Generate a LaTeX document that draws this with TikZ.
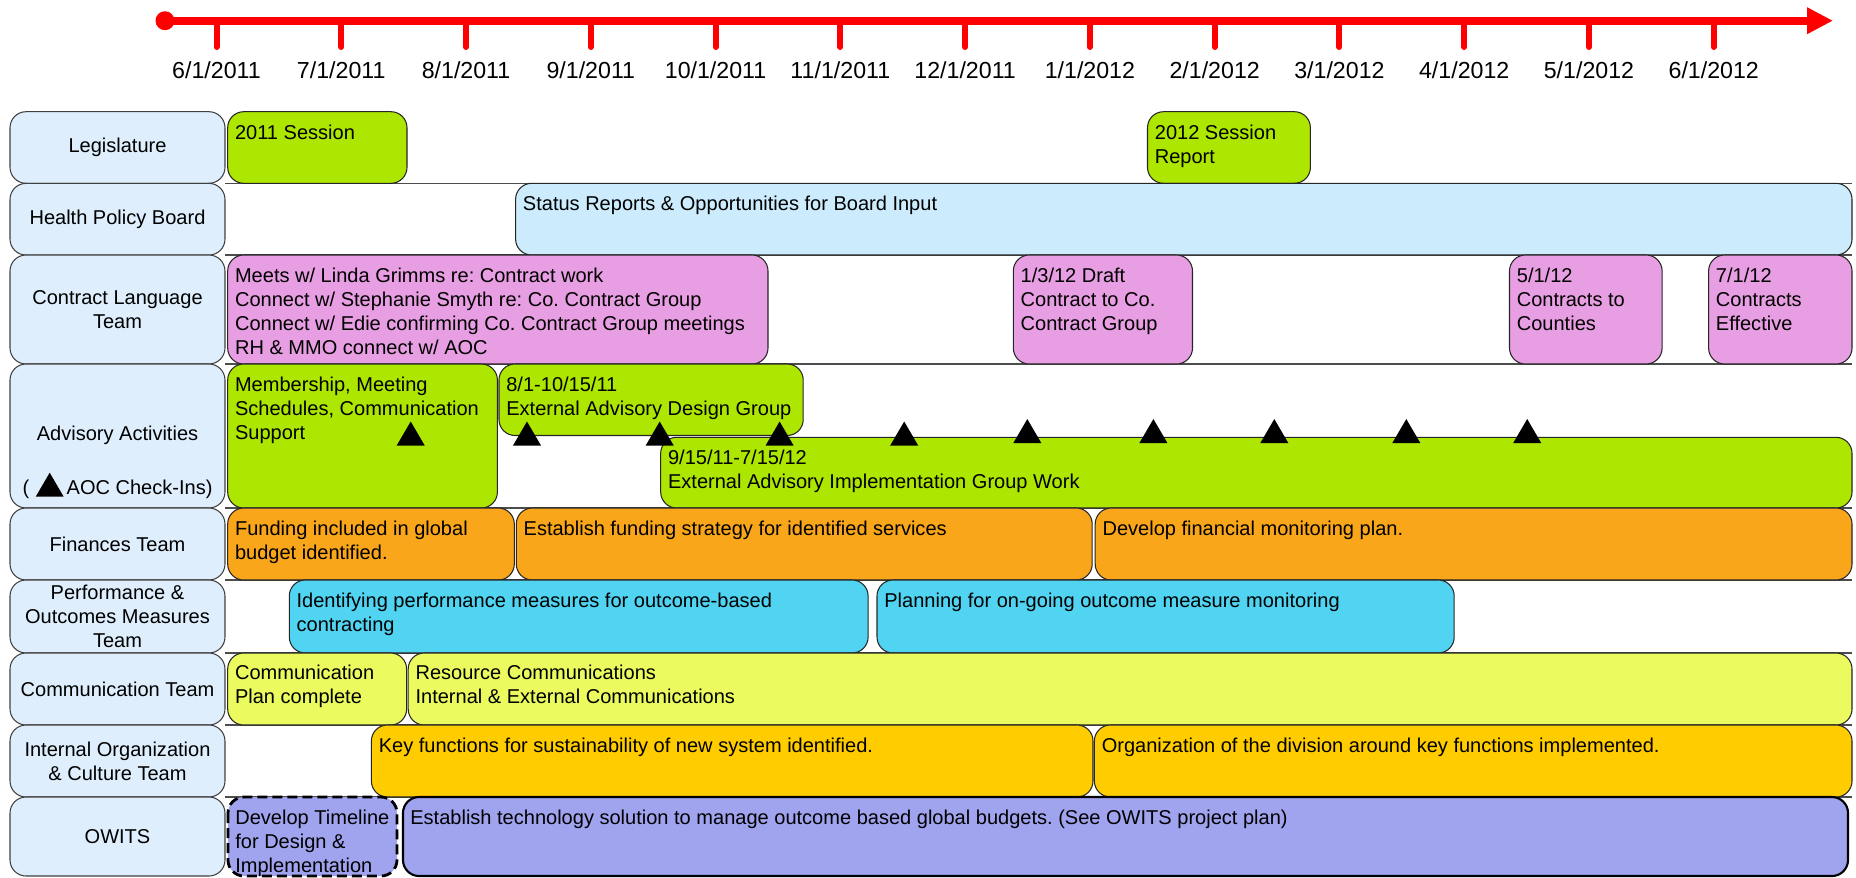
\documentclass[tikz,border=0pt]{standalone}
\usepackage{fontspec}
\setmainfont{Liberation Sans}
\usetikzlibrary{arrows.meta}
\frenchspacing
\definecolor{labblue}{RGB}{222,238,252}
\definecolor{sessgreen}{RGB}{173,230,0}
\definecolor{boardblue}{RGB}{204,236,253}
\definecolor{contpink}{RGB}{232,158,226}
\definecolor{finorange}{RGB}{250,166,26}
\definecolor{perfcyan}{RGB}{80,212,242}
\definecolor{commyellow}{RGB}{235,250,94}
\definecolor{orggold}{RGB}{255,204,0}
\definecolor{owitspurple}{RGB}{160,163,238}
\begin{document}
\begin{tikzpicture}
[x=0.02cm,y=-0.02cm,
 lab/.style={draw=black!75,fill=labblue,rounded corners=0.32cm,line width=0.6pt,
   minimum width=4.3cm,inner sep=0pt,align=center,font=\fontsize{11.4}{13.6}\selectfont},
 bar/.style={draw=black!85,rounded corners=0.32cm,line width=0.6pt},
 txt/.style={anchor=north west,inner sep=0pt,align=left,font=\fontsize{11.4}{13.6}\selectfont},
 month/.style={font=\fontsize{13.2}{15}\selectfont}]
   \clip (0,0) rectangle (1856,877);
   \node[circle,fill=red,inner sep=0pt,minimum size=0.38cm] (start) at (165,20.7) {};
   \coordinate (stop) at (1833,20.7);
   \draw[red,line width=0.16cm,-{Triangle[length=0.52cm,width=0.5cm]}] (start.center) -- (stop);
   \foreach \m/\yr [count=\i from 0] in {6/2011,7/2011,8/2011,9/2011,10/2011,11/2011,12/2011,1/2012,2/2012,3/2012,4/2012,5/2012,6/2012}
   {
     \draw[red,line width=0.12cm,line cap=round] (216.5+124.77*\i,22) -- (216.5+124.77*\i,47);
     \node[month] (m_\i) at (216.5+124.77*\i,70) {\m/1/\yr};
   }
   \foreach \y in {183.3,255,364,508,580,653,725,797}
     \draw[black!70,line width=0.6pt] (225,\y) -- (1852,\y);

   \node[lab,minimum height=1.432cm] (l_leg) at (117.5,147.5) {Legislature};
   \node[lab,minimum height=1.434cm] (l_hpb) at (117.5,219.2) {Health Policy Board};
   \node[lab,minimum height=2.18cm] (l_cl) at (117.5,309.5) {Contract Language\\Team};
   \node[lab,minimum height=2.88cm] (l_adv) at (117.5,436) {};
   \node[lab,minimum height=1.44cm] (l_fin) at (117.5,544) {Finances Team};
   \node[lab,minimum height=1.46cm] (l_pm) at (117.5,616.5) {Performance \&\\Outcomes Measures\\Team};
   \node[lab,minimum height=1.44cm] (l_com) at (117.5,689) {Communication Team};
   \node[lab,minimum height=1.44cm] (l_io) at (117.5,761) {Internal Organization\\\& Culture Team};
   \node[lab,minimum height=1.58cm] (l_ow) at (117.5,836.5) {OWITS};
   \node[txt,anchor=center] (l_adv1) at (117.5,435.7) {Advisory Activities};
   \node[txt,anchor=center] (l_adv2) at (117.5,489) {(\hspace{0.75cm}AOC Check-Ins)};
   \fill (35.7,496.7) -- (63.7,496.7) -- (49.7,472.7) -- cycle;

   \draw[bar,fill=sessgreen] (227.7,111.7) rectangle (407,183.3);
   \node[txt] (b_s11) at (234.7,124.5) {2011 Session};
   \draw[bar,fill=sessgreen] (1147.5,111.7) rectangle (1310.4,183.3);
   \node[txt] (b_s12) at (1154.5,124.5) {2012 Session\\Report};

   \draw[bar,fill=boardblue] (515.6,183.3) rectangle (1852,255);
   \node[txt] (b_hpb) at (522.6,196.1) {Status Reports \& Opportunities for Board Input};

   \draw[bar,fill=contpink] (227.7,255) rectangle (768,364);
   \node[txt] (b_cl1) at (234.7,267.8) {Meets w/ Linda Grimms re: Contract work\\Connect w/ Stephanie Smyth re: Co. Contract Group\\Connect w/ Edie confirming Co. Contract Group meetings\\RH \& MMO connect w/ AOC};
   \draw[bar,fill=contpink] (1013.3,255) rectangle (1192.5,364);
   \node[txt] (b_cl2) at (1020.3,267.8) {1/3/12 Draft\\Contract to Co.\\Contract Group};
   \draw[bar,fill=contpink] (1509.5,255) rectangle (1662.1,364);
   \node[txt] (b_cl3) at (1516.5,267.8) {5/1/12\\Contracts to\\Counties};
   \draw[bar,fill=contpink] (1708.6,255) rectangle (1852,364);
   \node[txt] (b_cl4) at (1715.6,267.8) {7/1/12\\Contracts\\Effective};

   \draw[bar,fill=sessgreen] (227.7,364) rectangle (497.4,508);
   \node[txt] (b_adv1) at (234.7,376.8) {Membership, Meeting\\Schedules, Communication\\Support};
   \draw[bar,fill=sessgreen] (499,364) rectangle (803.2,435.5);
   \node[txt] (b_adv2) at (506,376.8) {8/1-10/15/11\\External Advisory Design Group};
   \draw[bar,fill=sessgreen] (660.7,437.3) rectangle (1852,508);
   \node[txt] (b_adv3) at (667.7,449.5) {9/15/11-7/15/12\\External Advisory Implementation Group Work};
   \foreach \x/\y in {410.7/445.5,527/445.5,659.7/445.5,779.6/445.5,904.2/445.5,1027.3/443,1153.4/443,1274.3/443,1406.3/443,1527.2/443}
     \fill (\x-14,\y) -- (\x+14,\y) -- (\x,\y-24) -- cycle;

   \draw[bar,fill=finorange] (227.7,508) rectangle (514.3,580);
   \node[txt] (b_fin1) at (234.7,520.8) {Funding included in global\\budget identified.};
   \draw[bar,fill=finorange] (516.3,508) rectangle (1092.2,580);
   \node[txt] (b_fin2) at (523.3,520.8) {Establish funding strategy for identified services};
   \draw[bar,fill=finorange] (1095.2,508) rectangle (1852,580);
   \node[txt] (b_fin3) at (1102.2,520.8) {Develop financial monitoring plan.};

   \draw[bar,fill=perfcyan] (289.3,580) rectangle (868.1,653);
   \node[txt] (b_pm1) at (296.3,592.8) {Identifying performance measures for outcome-based\\contracting};
   \draw[bar,fill=perfcyan] (877,580) rectangle (1454.2,653);
   \node[txt] (b_pm2) at (884,592.8) {Planning for on-going outcome measure monitoring};

   \draw[bar,fill=commyellow] (227.7,653) rectangle (406.6,725);
   \node[txt] (b_com1) at (234.7,665) {Communication\\Plan complete};
   \draw[bar,fill=commyellow] (408.2,653) rectangle (1852,725);
   \node[txt] (b_com2) at (415.2,665) {Resource Communications\\Internal \& External Communications};

   \draw[bar,fill=orggold] (371.4,725) rectangle (1093,797);
   \node[txt] (b_io1) at (378.4,737.8) {Key functions for sustainability of new system identified.};
   \draw[bar,fill=orggold] (1094.4,725) rectangle (1852,797);
   \node[txt] (b_io2) at (1101.4,737.8) {Organization of the division around key functions implemented.};

   \draw[bar,fill=owitspurple,draw=black,line width=1.6pt,dash pattern=on 0.2cm off 0.1cm] (228,797) rectangle (397,876);
   \node[txt] (b_ow1) at (235,809.8) {Develop Timeline\\for Design \&\\Implementation};
   \draw[bar,fill=owitspurple,line width=1.2pt,draw=black] (403,797) rectangle (1848,876);
   \node[txt] (b_ow2) at (410,809.8) {Establish technology solution to manage outcome based global budgets. (See OWITS project plan)};
\end{tikzpicture}
\end{document}
